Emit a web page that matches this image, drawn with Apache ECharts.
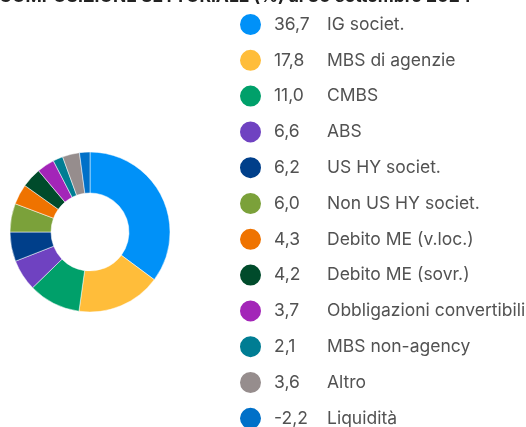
<!DOCTYPE html>
<html>
  <head>
    <meta charset="UTF-8" />
    <title>Composizione settoriale</title>
    <script src="https://cdn.jsdelivr.net/npm/echarts@6.0.0/dist/echarts.min.js"></script>
    <style>
      html, body { margin: 0; padding: 0; background: #fff; }
    </style>
  </head>
  <body>
    <div id="pieChart" style="width: 526px; height: 427px"></div>
  </body>
  <script>
    // sector names, weights (%) and colours
    const sectors = ['IG societ.', 'MBS di agenzie', 'CMBS', 'ABS', 'US HY societ.', 'Non US HY societ.',
      'Debito ME (v.loc.)', 'Debito ME (sovr.)', 'Obbligazioni convertibili', 'MBS non-agency', 'Altro', 'Liquidità'];
    const weights = [36.7, 17.8, 11.0, 6.6, 6.2, 6.0, 4.3, 4.2, 3.7, 2.1, 3.6, -2.2];
    const colors = ['#0091f8', '#ffbd3a', '#00a06a', '#6f42c1', '#003f8a', '#7ba13a',
      '#ef7300', '#004b2b', '#a325b8', '#007d93', '#968d8d', '#0070c8'];

    const fmt = v => v.toFixed(1).replace('.', ',');

    let myChart = echarts.init(document.getElementById('pieChart'));

    myChart.setOption({
      animation: false,
      color: colors,
      graphic: [{
        type: 'text',
        left: -1,
        top: -12.5,
        style: {
          text: 'COMPOSIZIONE SETTORIALE (%) al 30 settembre 2024',
          font: 'bold 17.5px Inter',
          fill: '#222'
        }
      }],
      legend: {
        orient: 'vertical',
        left: 238,
        top: 12,
        height: 600,
        padding: 0,
        itemWidth: 23,
        itemHeight: 23,
        itemGap: 10.8,
        icon: 'circle',
        data: sectors,
        formatter: name => {
          let i = sectors.indexOf(name);
          return '{v|' + fmt(weights[i]) + '}{n|' + name + '}';
        },
        textStyle: {
          lineHeight: 20,
          rich: {
            v: { width: 53, padding: [0, 0, 0, 7], fontSize: 17.5, lineHeight: 20, fontFamily: 'Inter', color: '#525252' },
            n: { fontSize: 17.5, lineHeight: 20, fontFamily: 'Inter', color: '#525252' }
          }
        }
      },
      series: [{
        type: 'pie',
        center: [90, 232],
        radius: [39, 80],
        startAngle: 90,
        clockwise: true,
        label: { show: false },
        labelLine: { show: false },
        itemStyle: { borderColor: '#ffffff', borderWidth: 0.5 },
        data: sectors.map((name, i) => ({ name: name, value: Math.abs(weights[i]) }))
      }]
    });
  </script>
</html>
